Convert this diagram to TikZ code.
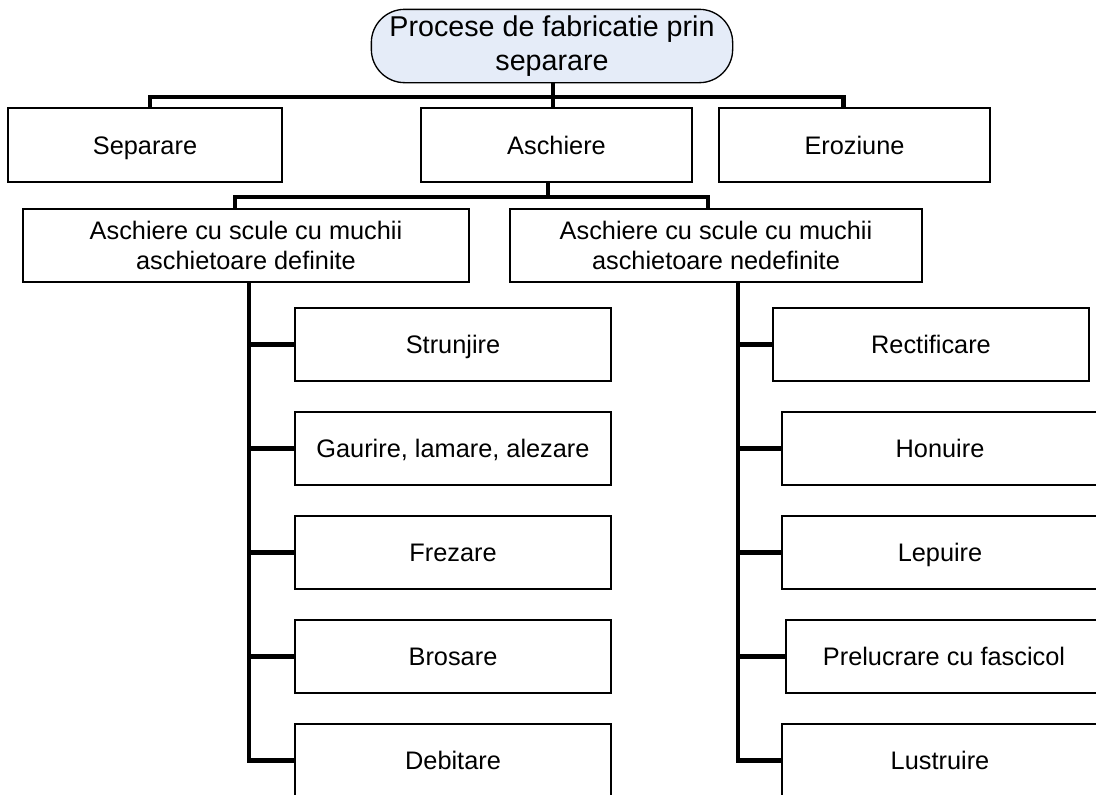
\documentclass[tikz,border=0pt]{standalone}
\usepackage{fontspec}
\setmainfont{Liberation Sans}
\usepackage{tikz}
\usetikzlibrary{positioning}
\definecolor{rootfill}{RGB}{229,236,248}
\tikzset{
    node distance=78pt, % Vertical spacing between the process boxes
    box/.style={ % Plain rectangular boxes
        draw,
        line width=1.4pt,
        fill=white,
        align=center,
        inner sep=0pt,
        minimum height=55pt,
        font=\fontsize{19}{22.5}\selectfont
    },
    onerow/.style={ % Single line boxes: keep the capitals centred
        box,
        text height=13.6pt,
        text depth=0pt
    },
    root/.style={ % Rounded box at the top
        box,
        fill=rootfill,
        line width=1pt,
        rounded corners=25pt,
        minimum width=271pt,
        font=\fontsize{21.5}{26}\selectfont
    },
    leaf/.style={onerow, minimum width=237pt},
    link/.style={ % Thick tree connectors
        draw,
        line width=3.2pt
    }
}

\begin{document}
\begin{tikzpicture}[x=0.75pt, y=-0.75pt]
            \clip (0,0) rectangle (1096,794);

            \node[root] (root) at (552,46) {Procese de fabricatie prin\\separare};

            \node[onerow, minimum width=205.5pt] (sep) at (145,145) {Separare};
            \node[onerow, minimum width=203pt] (asch) at (556.5,145) {Aschiere};
            \node[onerow, minimum width=203pt] (eroz) at (854.5,145) {Eroziune};

            \node[box, minimum width=334.5pt] (def) at (246,245.5) {Aschiere cu scule cu muchii\\aschietoare definite};
            \node[box, minimum width=309pt] (nedef) at (716,245.5) {Aschiere cu scule cu muchii\\aschietoare nedefinite};

            % left column
            \node[leaf] (strun) at (453,344.5) {Strunjire};
            \node[leaf, below of=strun] (gaur) {Gaurire, lamare, alezare};
            \node[leaf, below of=gaur] (frez) {Frezare};
            \node[leaf, below of=frez] (bros) {Brosare};
            \node[leaf, below of=bros] (debit) {Debitare};

            % right column
            \node[leaf] (rect) at (931,344.5) {Rectificare};
            \node[leaf, below of=rect, xshift=6.75pt] (hon) {Honuire};
            \node[leaf, below of=hon] (lep) {Lepuire};
            \node[leaf, below of=lep, xshift=3pt] (prel) {Prelucrare cu fascicol};
            \node[leaf, below of=prel, xshift=-3pt] (lust) {Lustruire};

            % first level
            \coordinate (bus1) at (553,97);
            \draw[link] (root.south -| bus1) -- (asch.north -| bus1);
            \draw[link] ([xshift=3.75pt]sep.north) |- (bus1) -| ([xshift=-8.25pt]eroz.north);

            % second level
            \coordinate (bus2) at (548,197);
            \draw[link] (asch.south -| bus2) -- (bus2);
            \draw[link] ([xshift=-8.25pt]def.north) |- (bus2) -| ([xshift=-6pt]nedef.north);

            % trunks
            \path ([xshift=2.25pt]def.south) coordinate (ltop);
            \path ([xshift=16.5pt]nedef.south) coordinate (rtop);
            \draw[link] (ltop) |- (debit.west);
            \draw[link] (rtop) |- (lust.west);
            \foreach \n in {strun,gaur,frez,bros}
                \draw[link] (ltop |- \n.west) -- (\n.west);
            \foreach \n in {rect,hon,lep,prel}
                \draw[link] (rtop |- \n.west) -- (\n.west);
        \end{tikzpicture}
\end{document}
